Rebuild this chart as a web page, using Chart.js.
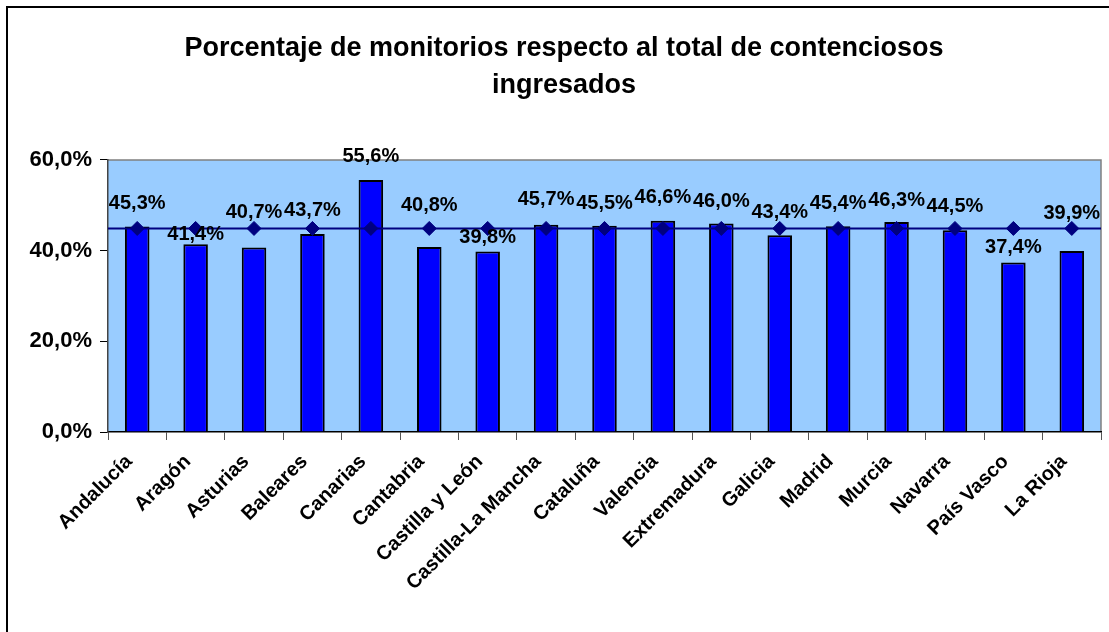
<!DOCTYPE html>
<html>
<head>
<meta charset="utf-8">
<script src="https://cdn.jsdelivr.net/npm/chart.js@4/dist/chart.umd.min.js"></script>
<style>
  html, body { margin: 0; padding: 0; background: #fff; }
</style>
</head>
<body>
<canvas id="monitoriosChart" width="1109" height="632"></canvas>
<script>
const regions = ['Andalucía', 'Aragón', 'Asturias', 'Baleares', 'Canarias', 'Cantabria',
  'Castilla y León', 'Castilla-La Mancha', 'Cataluña', 'Valencia', 'Extremadura', 'Galicia',
  'Madrid', 'Murcia', 'Navarra', 'País Vasco', 'La Rioja'];
const shares = [45.3, 41.4, 40.7, 43.7, 55.6, 40.8, 39.8, 45.7, 45.5, 46.6, 46.0, 43.4, 45.4, 46.3, 44.5, 37.4, 39.9];
const nationalShare = 44.9;
const yTicks = [0, 20, 40, 60];

// how far above each bar top its value label sits (px) - labels were nudged by hand in the original
const labelLift = [23.5, 10, 34.5, 23, 23, 42, 14.5, 25, 22, 23, 21.5, 23, 23, 22, 24, 14.5, 38];

const FONT = "'Liberation Sans', Arial, sans-serif";
const pct = v => v.toFixed(1).replace('.', ',') + '%';

const decor = {
  id: 'decor',
  beforeDraw(chart) {
    const { ctx, chartArea: a } = chart;
    ctx.save();
    ctx.fillStyle = '#ffffff';
    ctx.fillRect(0, 0, chart.width, chart.height);
    ctx.fillStyle = '#99ccff';
    ctx.fillRect(a.left, a.top, a.right - a.left, a.bottom - a.top);
    ctx.strokeStyle = '#808080';
    ctx.lineWidth = 1.5;
    ctx.beginPath();
    ctx.moveTo(a.left, a.top);
    ctx.lineTo(a.right, a.top);
    ctx.lineTo(a.right, a.bottom);
    ctx.stroke();
    // outer frame (left + top, rest is cut off)
    ctx.strokeStyle = '#000';
    ctx.lineWidth = 2;
    ctx.beginPath();
    ctx.moveTo(7, chart.height + 2);
    ctx.lineTo(7, 7);
    ctx.lineTo(chart.width + 2, 7);
    ctx.stroke();
    ctx.restore();
  },
  afterDatasetDraw(chart, args) {
    if (args.index !== 0) return;
    // average line across the whole plot, over the bars
    const { ctx, chartArea: a } = chart;
    const y = chart.scales.y.getPixelForValue(nationalShare);
    ctx.save();
    ctx.strokeStyle = '#000080';
    ctx.lineWidth = 2;
    ctx.beginPath();
    ctx.moveTo(a.left, y);
    ctx.lineTo(a.right, y);
    ctx.stroke();
    ctx.restore();
  },
  afterDatasetsDraw(chart) {
    const { ctx } = chart;
    const meta = chart.getDatasetMeta(0);
    ctx.save();
    ctx.fillStyle = '#000';
    ctx.font = 'bold 20px ' + FONT;
    ctx.textAlign = 'center';
    ctx.textBaseline = 'middle';
    meta.data.forEach((bar, i) => {
      ctx.fillText(pct(shares[i]), bar.x, bar.y - labelLift[i]);
    });
    ctx.restore();
  }
};

new Chart(document.getElementById('monitoriosChart'), {
  type: 'bar',
  data: {
    labels: regions,
    datasets: [
      {
        type: 'bar',
        label: 'Monitorios',
        data: shares,
        backgroundColor: '#0000ff',
        borderColor: '#000000',
        borderWidth: 2,
        barPercentage: 0.42,
        categoryPercentage: 1,
        order: 2
      },
      {
        type: 'line',
        label: 'Total',
        data: regions.map(() => nationalShare),
        showLine: false,
        pointStyle: 'rectRot',
        pointRadius: 7,
        pointBackgroundColor: '#000080',
        pointBorderColor: '#000080',
        order: 1
      }
    ]
  },
  options: {
    responsive: false,
    animation: false,
    devicePixelRatio: 1,
    layout: { padding: { left: 25, right: 6, top: 0, bottom: 0 } },
    scales: {
      x: {
        grid: { offset: true, drawOnChartArea: false, tickLength: 8, color: '#555555' },
        border: { color: '#000000', width: 1.5 },
        ticks: {
          autoSkip: false,
          maxRotation: 45,
          minRotation: 45,
          padding: 10,
          labelOffset: -8,
          color: '#000',
          font: { family: FONT, size: 20, weight: 'bold' }
        },
        afterFit(scale) { scale.height = 200; }
      },
      y: {
        min: yTicks[0],
        max: yTicks[yTicks.length - 1],
        afterBuildTicks(scale) { scale.ticks = yTicks.map(v => ({ value: v })); },
        grid: { drawOnChartArea: false, tickLength: 8, color: '#000000' },
        border: { color: '#444444', width: 1.5 },
        ticks: {
          padding: 8,
          color: '#000',
          font: { family: FONT, size: 22, weight: 'bold' },
          callback: v => pct(v)
        },
        afterFit(scale) { scale.width = 83; }
      }
    },
    plugins: {
      legend: { display: false },
      tooltip: { enabled: false },
      title: {
        display: true,
        text: ['Porcentaje de monitorios respecto al total de contenciosos', 'ingresados'],
        color: '#000',
        font: { family: FONT, size: 27, weight: 'bold', lineHeight: 1.37 },
        padding: { top: 30, bottom: 56 }
      }
    }
  },
  plugins: [decor]
});
</script>
</body>
</html>
